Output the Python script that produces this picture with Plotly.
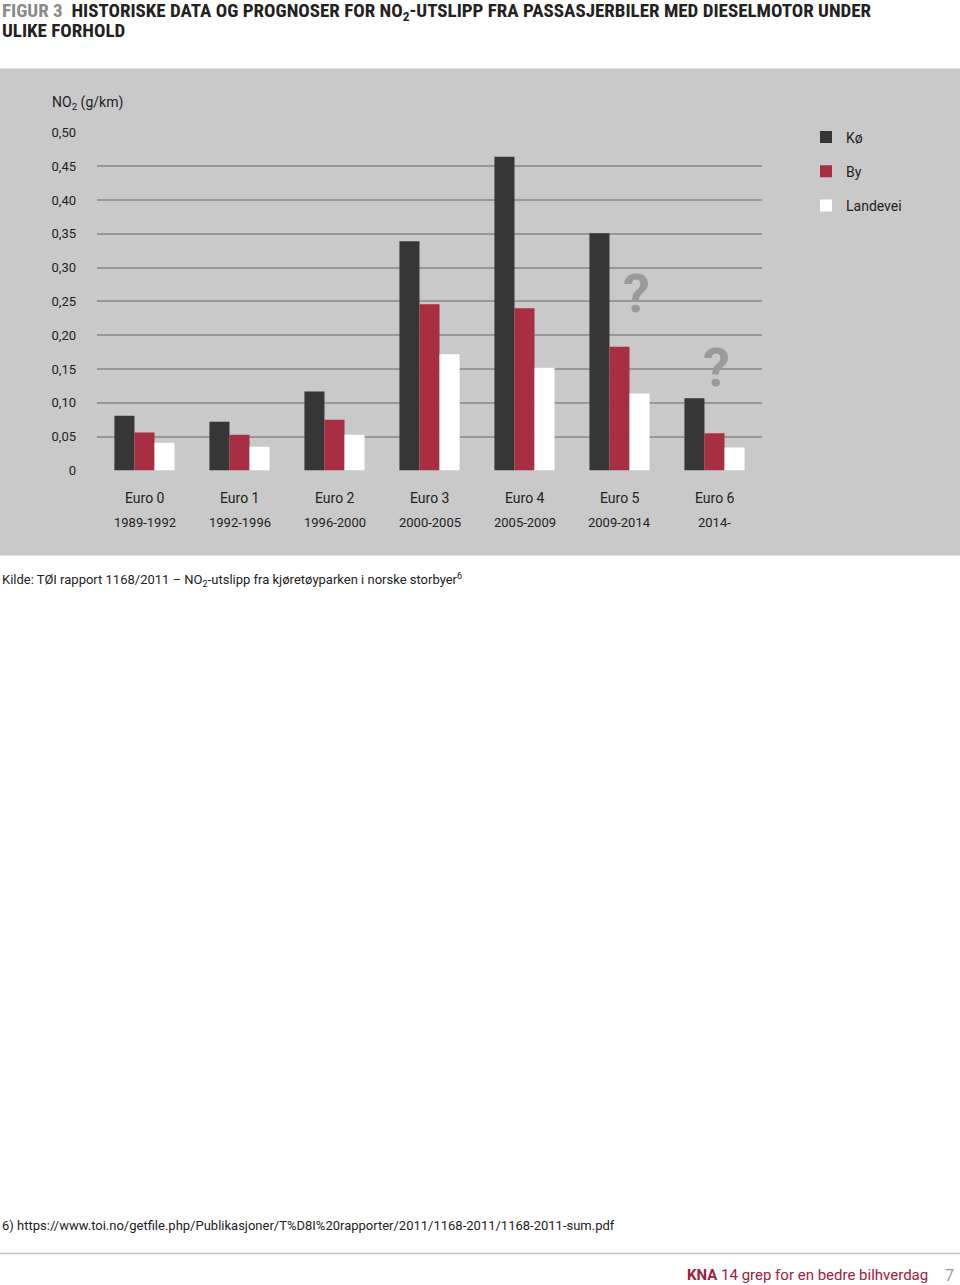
import plotly.graph_objects as go

W, H = 960, 1285

categories = ["Euro 0", "Euro 1", "Euro 2", "Euro 3", "Euro 4", "Euro 5", "Euro 6"]
periods = ["1989-1992", "1992-1996", "1996-2000", "2000-2005", "2005-2009", "2009-2014", "2014-"]

ko = [0.081, 0.072, 0.117, 0.339, 0.464, 0.351, 0.107]
by = [0.056, 0.053, 0.075, 0.246, 0.240, 0.183, 0.055]
landevei = [0.041, 0.035, 0.053, 0.172, 0.152, 0.114, 0.034]

series_names = ["Kø", "By", "Landevei"]
series_colors = ["#363636", "#a82f42", "#ffffff"]

y_ticks = [0, 0.05, 0.10, 0.15, 0.20, 0.25, 0.30, 0.35, 0.40, 0.45, 0.50]
y_tick_text = ["0", "0,05", "0,10", "0,15", "0,20", "0,25", "0,30", "0,35", "0,40", "0,45", "0,50"]

# question marks (uncertain forecasts): category offset, value
qmarks_x = [5.18, 6.02]
qmarks_y = [0.262, 0.152]

FONT = "Roboto, Liberation Sans, Arial, sans-serif"
TITLE_FONT = "Liberation Sans Narrow, Roboto Condensed, Liberation Sans, sans-serif"
TXT = "#222222"

# map a vertical position on the final picture to a paper coordinate
# (the capture maps paper pixels p to 0.9884*p + 6.5)
def py(px):
    return 1 - ((px - 6.5) / 0.9884) / H

fig = go.Figure()
for name, vals, col in zip(series_names, [ko, by, landevei], series_colors):
    fig.add_trace(go.Bar(
        x=list(range(len(categories))), y=vals, name=name,
        marker=dict(color=col, line=dict(width=0)),
        legendgroup=name, hoverinfo="skip",
    ))

annotations = []
# x category labels
for i, (c, p) in enumerate(zip(categories, periods)):
    annotations.append(dict(x=i, y=py(498), xref="x", yref="paper", text=c,
                            showarrow=False, font=dict(family=FONT, size=14, color=TXT),
                            xanchor="center", yanchor="middle"))
    annotations.append(dict(x=i, y=py(522), xref="x", yref="paper", text=p,
                            showarrow=False, font=dict(family=FONT, size=13, color=TXT),
                            xanchor="center", yanchor="middle"))
# question marks
for qx, qy in zip(qmarks_x, qmarks_y):
    annotations.append(dict(x=qx, y=qy, xref="x", yref="y", text="<b>?</b>",
                            showarrow=False, font=dict(family=FONT, size=54, color="#9a9a9a"),
                            xanchor="center", yanchor="middle"))
# axis title
annotations.append(dict(x=50 / W, y=py(103), xref="paper", yref="paper",
                        text="NO<sub>2</sub> (g/km)", showarrow=False,
                        font=dict(family=FONT, size=14, color=TXT), xanchor="left", yanchor="middle"))
# title (two lines)
annotations.append(dict(x=0, y=py(11), xref="paper", yref="paper", align="left",
                        text="<b><span style='color:#8a8a8a'>FIGUR 3</span>  HISTORISKE DATA OG PROGNOSER FOR NO<sub>2</sub>-UTSLIPP FRA PASSASJERBILER MED DIESELMOTOR UNDER</b>",
                        showarrow=False, font=dict(family=TITLE_FONT, size=19, color=TXT),
                        xanchor="left", yanchor="middle"))
annotations.append(dict(x=0, y=py(30), xref="paper", yref="paper", align="left",
                        text="<b>ULIKE FORHOLD</b>",
                        showarrow=False, font=dict(family=TITLE_FONT, size=19, color=TXT),
                        xanchor="left", yanchor="middle"))
# source
annotations.append(dict(x=0, y=py(580), xref="paper", yref="paper",
                        text="Kilde: TØI rapport 1168/2011 – NO<sub>2</sub>-utslipp fra kjøretøyparken i norske storbyer<sup>6</sup>",
                        showarrow=False, font=dict(family=FONT, size=13, color=TXT),
                        xanchor="left", yanchor="middle"))
# footnote
annotations.append(dict(x=0, y=py(1225), xref="paper", yref="paper",
                        text="6) https://www.toi.no/getfile.php/Publikasjoner/T%D8I%20rapporter/2011/1168-2011/1168-2011-sum.pdf",
                        showarrow=False, font=dict(family=FONT, size=13, color=TXT),
                        xanchor="left", yanchor="middle"))
# page footer
annotations.append(dict(x=930 / W, y=py(1275), xref="paper", yref="paper",
                        text="<b>KNA</b> 14 grep for en bedre bilhverdag",
                        showarrow=False, font=dict(family=FONT, size=15, color="#a0203a"),
                        xanchor="right", yanchor="middle"))
annotations.append(dict(x=956 / W, y=py(1275), xref="paper", yref="paper",
                        text="7", showarrow=False, font=dict(family=FONT, size=16, color="#9a9a9a"),
                        xanchor="right", yanchor="middle"))

shapes = [
    dict(type="rect", xref="paper", yref="paper", x0=0, x1=1, y0=py(555), y1=py(68),
         fillcolor="#c9c9c9", line=dict(width=0), layer="below"),
    dict(type="line", xref="paper", yref="paper", x0=0, x1=1, y0=py(1253), y1=py(1253),
         line=dict(color="#c4c4c4", width=1.5)),
]

fig.update_layout(
    width=W, height=H,
    margin=dict(l=0, r=0, t=0, b=0),
    paper_bgcolor="#ffffff",
    plot_bgcolor="rgba(0,0,0,0)",
    barmode="group", bargap=0.367, bargroupgap=0,
    font=dict(family=FONT, size=13, color=TXT),
    xaxis=dict(domain=[97 / W, 762 / W], range=[-0.5, 6.5], showticklabels=False,
               showgrid=False, zeroline=False, showline=False, ticks="", fixedrange=True),
    yaxis=dict(domain=[py(470), py(132)], range=[0, 0.5], tickvals=y_ticks, ticktext=y_tick_text,
               showgrid=True, gridcolor="#979797", gridwidth=1.5, zeroline=False, showline=False,
               ticks="", ticklabelstandoff=20, tickfont=dict(family=FONT, size=13, color=TXT),
               fixedrange=True),
    legend=dict(x=806 / W, y=py(121), xanchor="left", yanchor="top", orientation="v",
                bgcolor="rgba(0,0,0,0)", font=dict(family=FONT, size=14, color=TXT),
                tracegroupgap=13, traceorder="grouped", itemclick=False),
    annotations=annotations,
    shapes=shapes,
    showlegend=True,
)

post = (
    "document.documentElement.style.margin='0';"
    "document.body.style.margin='0';"
    "document.body.style.overflow='hidden';"
    "var g=document.getElementsByClassName('plotly-graph-div')[0];"
    "g.style.position='fixed';g.style.top='0';g.style.left='0';"
)
fig.write_html("out.html", config={"displayModeBar": False}, post_script=post)
